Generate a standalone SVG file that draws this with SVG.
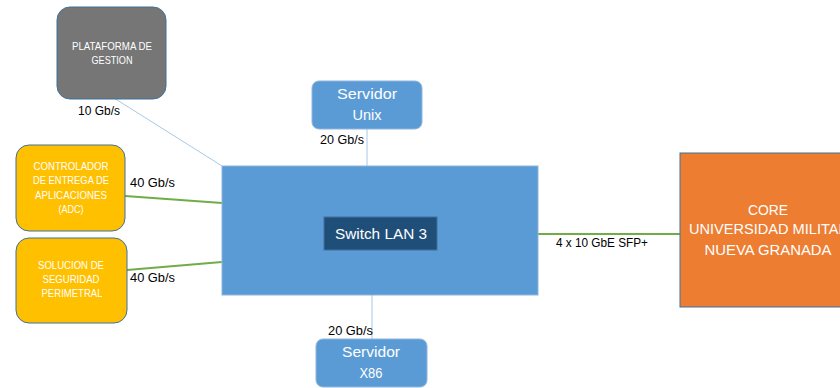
<svg xmlns="http://www.w3.org/2000/svg" width="840" height="388" viewBox="0 0 840 388">
<style>
text{font-family:"Liberation Sans",Arial,sans-serif}
.nt{fill:#ffffff;text-anchor:middle}
.lbl{fill:#000000;font-size:12px}
.blue{fill:#5b9bd5;stroke:#8fb4dc;stroke-width:1}
.gl{stroke:#70ad47;stroke-width:2;fill:none}
.bl{stroke:#a9c8ea;stroke-width:1;fill:none}
</style>
<rect width="840" height="388" fill="#ffffff"/>
<g id="connectors">
<line class="bl" x1="114" y1="98" x2="222" y2="166"/>
<line class="bl" x1="367" y1="129" x2="367" y2="166"/>
<line class="bl" x1="372" y1="295" x2="372" y2="339"/>
<line class="gl" x1="125" y1="196" x2="222" y2="203"/>
<line class="gl" x1="127" y1="270" x2="222" y2="262"/>
<line class="gl" x1="437" y1="234" x2="680" y2="234"/>
<text class="lbl" x="78" y="115" textLength="42" lengthAdjust="spacingAndGlyphs">10 Gb/s</text>
<text class="lbl" x="320" y="144" textLength="44" lengthAdjust="spacingAndGlyphs">20 Gb/s</text>
<text class="lbl" x="130" y="187" textLength="45" lengthAdjust="spacingAndGlyphs">40 Gb/s</text>
<text class="lbl" x="130" y="282" textLength="45" lengthAdjust="spacingAndGlyphs">40 Gb/s</text>
<text class="lbl" x="328" y="335" textLength="45" lengthAdjust="spacingAndGlyphs">20 Gb/s</text>
<text class="lbl" x="556" y="247" textLength="92" lengthAdjust="spacingAndGlyphs">4 x 10 GbE SFP+</text>
</g>
<g id="plataforma">
<rect x="57" y="7" width="109" height="92" rx="13" fill="#767676" stroke="#41719c" stroke-width="1"/>
<text class="nt" x="112" y="50" font-size="11" fill="#e6e6e6" textLength="80" lengthAdjust="spacingAndGlyphs">PLATAFORMA DE</text>
<text class="nt" x="112" y="64" font-size="11" textLength="41" lengthAdjust="spacingAndGlyphs">GESTION</text>
</g>
<g id="adc">
<rect x="16" y="145" width="109" height="86" rx="13" fill="#ffc000" stroke="#41719c" stroke-width="1"/>
<text class="nt" x="71" y="170" font-size="11" textLength="75" lengthAdjust="spacingAndGlyphs">CONTROLADOR</text>
<text class="nt" x="71" y="184" font-size="11" textLength="76" lengthAdjust="spacingAndGlyphs">DE ENTREGA DE</text>
<text class="nt" x="71" y="199" font-size="11" textLength="72" lengthAdjust="spacingAndGlyphs">APLICACIONES</text>
<text class="nt" x="71" y="213" font-size="11" textLength="25" lengthAdjust="spacingAndGlyphs">(ADC)</text>
</g>
<g id="solucion">
<rect x="16" y="238" width="111" height="85" rx="13" fill="#ffc000" stroke="#41719c" stroke-width="1"/>
<text class="nt" x="71" y="269" font-size="11" textLength="66" lengthAdjust="spacingAndGlyphs">SOLUCION DE</text>
<text class="nt" x="71" y="283" font-size="11" textLength="57" lengthAdjust="spacingAndGlyphs">SEGURIDAD</text>
<text class="nt" x="72" y="297" font-size="11" textLength="61" lengthAdjust="spacingAndGlyphs">PERIMETRAL</text>
</g>
<g id="switch">
<rect class="blue" x="222" y="166" width="316" height="129"/>
<rect x="324" y="217" width="113" height="33" fill="#1f4e79" stroke="#41719c" stroke-width="1"/>
<text class="nt" x="381" y="239" font-size="15" textLength="92" lengthAdjust="spacingAndGlyphs">Switch LAN 3</text>
</g>
<g id="unix">
<rect class="blue" x="312" y="81" width="110" height="48" rx="7" stroke="#41719c"/>
<text class="nt" x="367" y="99" font-size="15" textLength="60" lengthAdjust="spacingAndGlyphs">Servidor</text>
<text class="nt" x="367" y="120" font-size="15" textLength="29" lengthAdjust="spacingAndGlyphs">Unix</text>
</g>
<g id="x86">
<rect class="blue" x="316" y="339" width="111" height="48" rx="7" stroke="#41719c"/>
<text class="nt" x="371" y="357" font-size="15" textLength="58" lengthAdjust="spacingAndGlyphs">Servidor</text>
<text class="nt" x="371" y="378" font-size="15" textLength="23" lengthAdjust="spacingAndGlyphs">X86</text>
</g>
<g id="core">
<rect x="680" y="153" width="170" height="154" fill="#ed7d31" stroke="#41719c" stroke-width="1"/>
<text class="nt" x="768" y="215" font-size="14" textLength="40" lengthAdjust="spacingAndGlyphs">CORE</text>
<text x="689" y="234" font-size="14" fill="#ffffff" textLength="160" lengthAdjust="spacingAndGlyphs">UNIVERSIDAD MILITAR</text>
<text class="nt" x="768" y="255" font-size="14" textLength="127" lengthAdjust="spacingAndGlyphs">NUEVA GRANADA</text>
</g>
</svg>
